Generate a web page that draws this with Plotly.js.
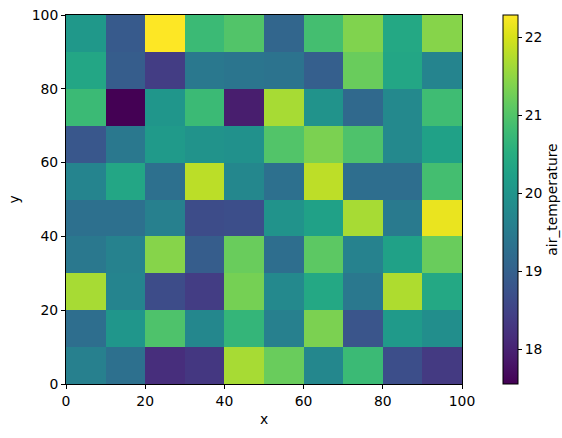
<!DOCTYPE html>
<html>
<head>
<meta charset="utf-8">
<script src="https://cdn.plot.ly/plotly-3.0.1.min.js"></script>
<style>html,body{margin:0;padding:0;background:#fff;}</style>
</head>
<body>
<div id="chart" style="width:562px;height:438px;"></div>
<script>
// grid cell edges
const xEdges = [0,10,20,30,40,50,60,70,80,90,100];
const yEdges = [0,10,20,30,40,50,60,70,80,90,100];
// air_temperature, rows from y=0-10 (bottom) to y=90-100 (top)
const row0 = [19.60,19.30,18.17,18.30,21.67,21.20,19.73,20.77,18.68,18.35];
const row1 = [19.26,20.02,20.96,19.73,20.68,19.60,21.34,18.79,20.11,19.87];
const row2 = [21.67,19.68,18.64,18.40,21.30,19.78,20.39,19.45,21.72,20.39];
const row3 = [19.45,19.64,21.43,18.93,21.20,19.26,21.10,19.64,20.25,21.20];
const row4 = [19.30,19.30,19.60,18.64,18.68,19.97,20.25,21.67,19.49,22.14];
const row5 = [19.68,20.35,19.30,21.81,19.73,19.30,21.82,19.26,19.26,20.87];
const row6 = [18.83,19.45,20.11,19.97,19.92,21.00,21.34,20.96,19.78,20.25];
const row7 = [20.77,17.555,20.02,20.77,17.93,21.67,19.97,19.16,19.78,20.82];
const row8 = [20.35,18.93,18.40,19.45,19.40,19.35,18.97,21.20,20.35,19.68];
const row9 = [20.06,18.88,22.286,20.77,21.00,19.10,20.87,21.38,20.39,21.43];
const z = [row0,row1,row2,row3,row4,row5,row6,row7,row8,row9];
const xTicks = [0,20,40,60,80,100];
const yTicks = [0,20,40,60,80,100];
const cbTicks = [18,19,20,21,22];

const font = {family: 'DejaVu Sans', size: 13.9, color: '#000'};

const trace = {
  type: 'heatmap',
  x: xEdges,
  y: yEdges,
  z: z,
  colorscale: 'Viridis',
  zmin: 17.555,
  zmax: 22.286,
  hoverinfo: 'skip',
  colorbar: {
    x: 1.1035, xanchor: 'left', xpad: 0,
    y: 0, yanchor: 'bottom', ypad: 0,
    len: 1, lenmode: 'fraction',
    thickness: 15, thicknessmode: 'pixels',
    outlinewidth: 1, outlinecolor: '#000',
    ticks: 'outside', ticklen: 4, tickwidth: 1, tickcolor: '#000',
    tickvals: cbTicks, ticktext: cbTicks.map(String),
    tickfont: font,
    title: {text: 'air_temperature', side: 'right', font: font}
  }
};

const axisCommon = {
  showgrid: false, zeroline: false,
  showline: true, linecolor: '#000', linewidth: 1, mirror: true,
  ticks: 'outside', ticklen: 4, tickwidth: 1, tickcolor: '#000',
  tickfont: font
};

const layout = {
  width: 562, height: 438,
  margin: {l: 66, r: 100, t: 15, b: 54, autoexpand: false},
  paper_bgcolor: '#fff', plot_bgcolor: '#fff',
  font: font,
  xaxis: Object.assign({}, axisCommon, {
    range: [0, 100], tickvals: xTicks, ticktext: xTicks.map(String),
    title: {text: 'x', font: font, standoff: 6}
  }),
  yaxis: Object.assign({}, axisCommon, {
    range: [0, 100], tickvals: yTicks, ticktext: yTicks.map(String),
    title: {text: 'y', font: font, standoff: 8}
  })
};

Plotly.newPlot('chart', [trace], layout, {displayModeBar: false, staticPlot: true});
</script>
</body>
</html>
